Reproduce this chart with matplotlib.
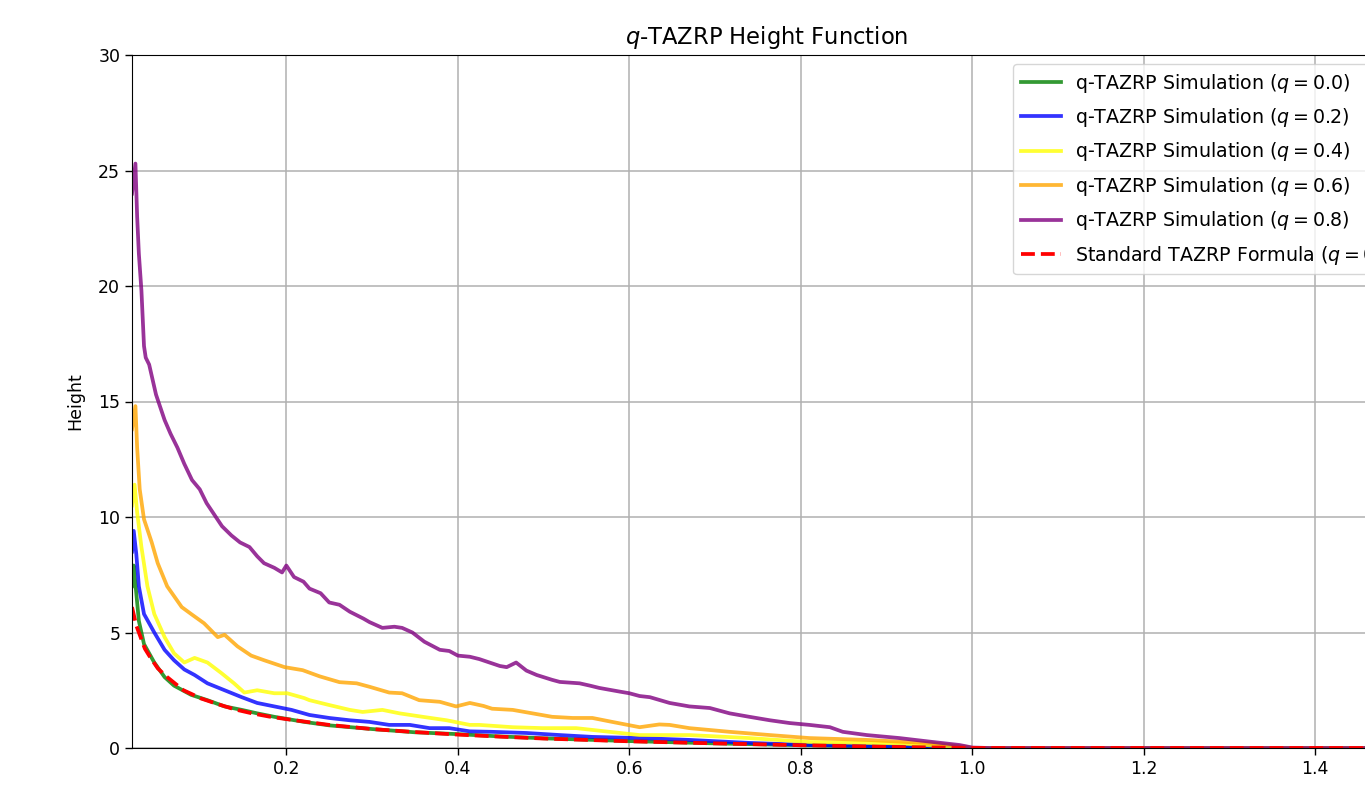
import matplotlib
matplotlib.use("Agg")
import matplotlib.pyplot as plt

# ---- data ----
x_q08 = [0.020, 0.024, 0.026, 0.028, 0.031, 0.034, 0.036, 0.040, 0.048, 0.058, 0.065, 0.073,
         0.081, 0.090, 0.099, 0.107, 0.116, 0.125, 0.136, 0.146, 0.157, 0.166, 0.174, 0.186,
         0.195, 0.200, 0.209, 0.220, 0.227, 0.240, 0.250, 0.262, 0.274, 0.290, 0.297, 0.312,
         0.326, 0.335, 0.347, 0.361, 0.379, 0.390, 0.400, 0.414, 0.425, 0.437, 0.449, 0.457,
         0.468, 0.480, 0.492, 0.510, 0.519, 0.542, 0.554, 0.565, 0.589, 0.600, 0.612, 0.624,
         0.647, 0.670, 0.694, 0.717, 0.740, 0.764, 0.787, 0.810, 0.834, 0.849, 0.877, 0.915,
         0.954, 0.985, 1.000, 1.020, 1.500]
y_q08 = [24.0, 25.3, 23.0, 21.4, 19.8, 17.4, 16.9, 16.6, 15.3, 14.2, 13.6, 13.0,
         12.3, 11.6, 11.2, 10.6, 10.1, 9.6, 9.2, 8.9, 8.7, 8.3, 8.0, 7.8,
         7.6, 7.9, 7.4, 7.2, 6.9, 6.7, 6.3, 6.2, 5.9, 5.6, 5.45, 5.2,
         5.25, 5.2, 5.0, 4.6, 4.25, 4.2, 4.0, 3.95, 3.85, 3.7, 3.55, 3.5,
         3.7, 3.35, 3.16, 2.95, 2.86, 2.8, 2.7, 2.6, 2.44, 2.37, 2.25, 2.2,
         1.95, 1.8, 1.73, 1.5, 1.35, 1.2, 1.08, 1.0, 0.9, 0.7, 0.56, 0.43,
         0.26, 0.13, 0.02, 0.0, 0.0]

x_q06 = [0.020, 0.024, 0.026, 0.029, 0.034, 0.043, 0.050, 0.061, 0.078, 0.089, 0.104, 0.120,
         0.128, 0.143, 0.159, 0.174, 0.198, 0.219, 0.239, 0.262, 0.282, 0.297, 0.320, 0.335,
         0.355, 0.379, 0.398, 0.414, 0.430, 0.440, 0.464, 0.487, 0.510, 0.534, 0.557, 0.580,
         0.612, 0.635, 0.647, 0.670, 0.717, 0.764, 0.810, 0.877, 0.954, 0.994, 1.000, 1.500]
y_q06 = [13.8, 14.8, 13.0, 11.2, 9.9, 8.9, 8.0, 7.0, 6.1, 5.8, 5.4, 4.8,
         4.9, 4.4, 4.0, 3.8, 3.5, 3.37, 3.1, 2.85, 2.8, 2.65, 2.4, 2.37,
         2.07, 2.0, 1.8, 1.95, 1.82, 1.7, 1.65, 1.5, 1.35, 1.3, 1.3, 1.13,
         0.9, 1.02, 1.0, 0.86, 0.7, 0.56, 0.43, 0.35, 0.2, 0.05, 0.0, 0.0]

x_q04 = [0.020, 0.023, 0.026, 0.031, 0.038, 0.046, 0.058, 0.069, 0.081, 0.093, 0.108, 0.124,
         0.139, 0.151, 0.166, 0.186, 0.201, 0.221, 0.227, 0.250, 0.274, 0.289, 0.312, 0.332,
         0.359, 0.387, 0.414, 0.425, 0.464, 0.499, 0.538, 0.577, 0.612, 0.670, 0.740, 0.810,
         0.915, 0.980, 1.000, 1.500]
y_q04 = [10.5, 11.4, 10.2, 8.7, 7.0, 5.8, 4.8, 4.1, 3.7, 3.9, 3.7, 3.25,
         2.8, 2.4, 2.5, 2.37, 2.37, 2.16, 2.07, 1.86, 1.65, 1.56, 1.65, 1.5,
         1.35, 1.2, 1.0, 1.0, 0.9, 0.86, 0.86, 0.7, 0.56, 0.56, 0.43, 0.26,
         0.2, 0.05, 0.0, 0.0]

x_q02 = [0.020, 0.022, 0.025, 0.028, 0.034, 0.046, 0.058, 0.069, 0.081, 0.093, 0.108, 0.128,
         0.148, 0.166, 0.186, 0.206, 0.227, 0.250, 0.274, 0.297, 0.320, 0.344, 0.367, 0.390,
         0.414, 0.440, 0.480, 0.519, 0.557, 0.612, 0.670, 0.740, 0.810, 0.900, 1.000, 1.500]
y_q02 = [8.5, 9.4, 8.4, 7.0, 5.8, 5.0, 4.25, 3.8, 3.4, 3.16, 2.8, 2.5,
         2.2, 1.95, 1.8, 1.65, 1.43, 1.3, 1.2, 1.13, 1.0, 1.0, 0.86, 0.86,
         0.72, 0.7, 0.65, 0.56, 0.48, 0.43, 0.35, 0.22, 0.13, 0.07, 0.0, 0.0]

x_q00 = [0.020, 0.022, 0.025, 0.028, 0.034, 0.046, 0.058, 0.069, 0.089, 0.108, 0.128, 0.148,
         0.166, 0.186, 0.221, 0.250, 0.300, 0.350, 0.400, 0.450, 0.500, 0.550, 0.600, 0.700,
         0.800, 0.900, 1.000, 1.500]
y_q00 = [7.0, 7.9, 6.7, 5.5, 4.5, 3.7, 3.07, 2.7, 2.3, 2.07, 1.8, 1.65,
         1.5, 1.35, 1.13, 0.98, 0.82, 0.68, 0.60, 0.50, 0.42, 0.36, 0.30, 0.20,
         0.12, 0.05, 0.0, 0.0]

x_std = [0.020, 0.025, 0.030, 0.035, 0.040, 0.050, 0.060, 0.070, 0.080, 0.090, 0.100, 0.120,
         0.140, 0.160, 0.180, 0.200, 0.250, 0.300, 0.350, 0.400, 0.450, 0.500, 0.600, 0.700,
         0.800, 0.900, 1.000, 1.500]
y_std = [6.1, 5.3, 4.8, 4.3, 4.0, 3.45, 3.1, 2.8, 2.5, 2.33, 2.15, 1.9,
         1.67, 1.5, 1.36, 1.25, 1.0, 0.82, 0.69, 0.58, 0.49, 0.41, 0.29, 0.20,
         0.12, 0.05, 0.0, 0.0]

labels = [r"q-TAZRP Simulation ($q=0.0$)", r"q-TAZRP Simulation ($q=0.2$)",
          r"q-TAZRP Simulation ($q=0.4$)", r"q-TAZRP Simulation ($q=0.6$)",
          r"q-TAZRP Simulation ($q=0.8$)", r"Standard TAZRP Formula ($q=0.0$)"]
x_ticks = [0.2, 0.4, 0.6, 0.8, 1.0, 1.2, 1.4]
y_ticks = [0, 5, 10, 15, 20, 25, 30]

W, H = 1365, 787
fig = plt.figure(figsize=(W / 100, H / 100), dpi=100)
L, R, T, B = 132, 1401, 55, 748
ax = fig.add_axes([L / W, (H - B) / H, (R - L) / W, (B - T) / H])

lw = 2.7
ax.plot(x_q00, y_q00, color="green", alpha=0.8, lw=lw, label=labels[0])
ax.plot(x_q02, y_q02, color="blue", alpha=0.8, lw=lw, label=labels[1])
ax.plot(x_q04, y_q04, color="yellow", alpha=0.8, lw=lw, label=labels[2])
ax.plot(x_q06, y_q06, color="orange", alpha=0.8, lw=lw, label=labels[3])
ax.plot(x_q08, y_q08, color="purple", alpha=0.8, lw=lw, label=labels[4])
ax.plot(x_std, y_std, color="red", ls="--", lw=lw, label=labels[5])

ax.set_xlim(0.02, 1.5)
ax.set_ylim(0, 30)
ax.set_xticks(x_ticks)
ax.set_xticklabels([f"{v:.1f}" for v in x_ticks])
ax.set_yticks(y_ticks)
ax.tick_params(labelsize=12.5, length=5, width=1)
ax.grid(True, color="#b0b0b0", lw=1.1)
ax.set_axisbelow(True)
ax.set_ylabel("Height", fontsize=12.5, labelpad=10)
ax.set_title(r"$q$-TAZRP Height Function", fontsize=16.3, pad=8)

# legend top-left at (1013, 64) px
ax.legend(loc="upper left",
          bbox_to_anchor=((1013 - L) / (R - L), (B - 64) / (B - T)),
          borderaxespad=0, fontsize=13.7, handlelength=2.1, labelspacing=0.6,
          handletextpad=0.75, framealpha=0.8, edgecolor="0.8")

fig.savefig("out.png", dpi=100)
